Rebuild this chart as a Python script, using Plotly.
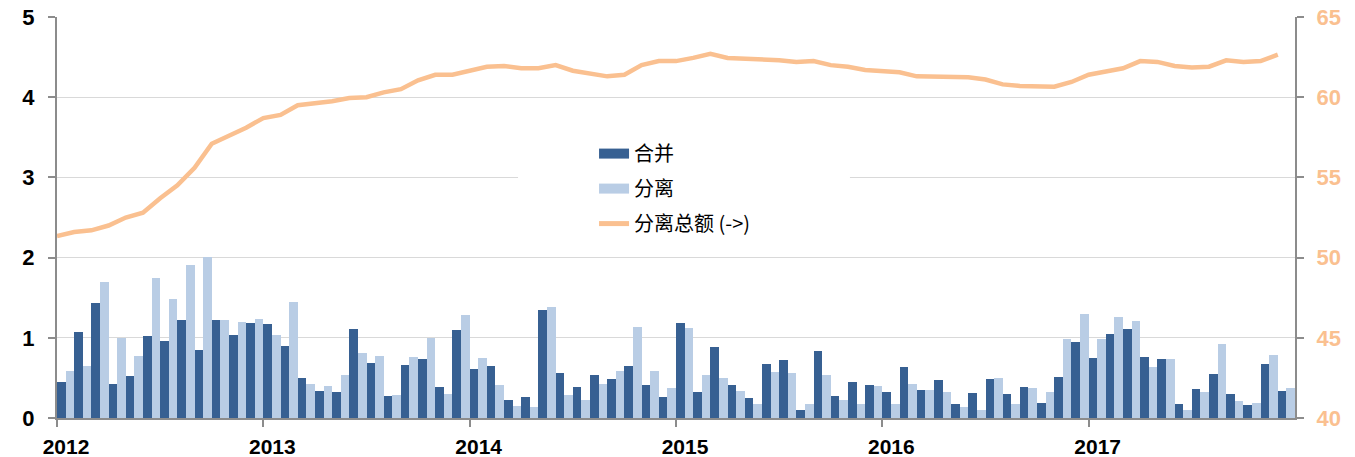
import numpy as np
import plotly.graph_objects as go

# ---- data (monthly, Jan 2012 - Dec 2017) ----
year_labels = ["2012", "2013", "2014", "2015", "2016", "2017"]

merge_vals = [
    0.45, 1.07, 1.44, 0.42, 0.52, 1.02, 0.96, 1.22, 0.85, 1.22, 1.04, 1.19,
    1.17, 0.90, 0.50, 0.34, 0.33, 1.11, 0.68, 0.28, 0.66, 0.74, 0.39, 1.10,
    0.61, 0.65, 0.23, 0.26, 1.35, 0.56, 0.39, 0.54, 0.49, 0.65, 0.41, 0.26,
    1.18, 0.32, 0.89, 0.41, 0.25, 0.67, 0.72, 0.10, 0.83, 0.27, 0.45, 0.41,
    0.33, 0.64, 0.35, 0.47, 0.18, 0.31, 0.49, 0.30, 0.39, 0.19, 0.51, 0.95,
    0.75, 1.05, 1.11, 0.76, 0.74, 0.18, 0.36, 0.55, 0.30, 0.16, 0.67, 0.34,
]
split_vals = [
    0.58, 0.65, 1.70, 1.00, 0.77, 1.75, 1.49, 1.91, 2.01, 1.22, 1.20, 1.24,
    1.04, 1.45, 0.42, 0.40, 0.54, 0.81, 0.77, 0.29, 0.76, 1.00, 0.30, 1.28,
    0.75, 0.41, 0.15, 0.14, 1.38, 0.29, 0.23, 0.43, 0.59, 1.13, 0.59, 0.37,
    1.12, 0.54, 0.50, 0.34, 0.17, 0.57, 0.56, 0.17, 0.53, 0.23, 0.18, 0.40,
    0.17, 0.43, 0.35, 0.33, 0.14, 0.10, 0.50, 0.17, 0.38, 0.32, 0.99, 1.30,
    0.98, 1.26, 1.21, 0.64, 0.73, 0.105, 0.32, 0.92, 0.21, 0.19, 0.78, 0.38,
]
split_total = [
    51.35, 51.6, 51.7, 52.0, 52.5, 52.8, 53.7, 54.5, 55.6, 57.1, 57.6, 58.1,
    58.7, 58.9, 59.5, 59.6, 59.75, 59.95, 60.0, 60.3, 60.5, 61.05, 61.4, 61.4,
    61.65, 61.9, 61.95, 61.8, 61.8, 62.0, 61.65, 61.5, 61.3, 61.4, 62.0, 62.25,
    62.25, 62.45, 62.7, 62.45, 62.4, 62.4, 62.3, 62.2, 62.25, 62.0, 61.9, 61.7,
    61.65, 61.55, 61.3, 61.3, 61.25, 61.25, 61.1, 60.8, 60.7, 60.7, 60.65, 60.95,
    61.4, 61.6, 61.8, 62.25, 62.2, 61.95, 61.85, 61.9, 62.3, 62.2, 62.25, 62.65,
]

names = ["合并", "分离", "分离总额 (->)"]

DARK = "#376092"
LIGHT = "#B9CDE5"
ORANGE = "#FAC090"
AXIS = "#8C8C8C"
GRID = "#D9D9D9"
FONT = "Liberation Sans, Arial, sans-serif"

n = len(merge_vals)
idx = np.arange(n)

fig = go.Figure()
fig.add_trace(go.Bar(x=idx + 0.5, y=merge_vals, name=names[0], marker_color=DARK,
                     marker_line_width=0, showlegend=False))
fig.add_trace(go.Bar(x=idx + 0.5, y=split_vals, name=names[1], marker_color=LIGHT,
                     marker_line_width=0, showlegend=False))
fig.add_trace(go.Scatter(x=idx, y=split_total, name=names[2], mode="lines",
                         line=dict(color=ORANGE, width=4.5), yaxis="y2", showlegend=False))

# legend entries (wide swatches like the original)
for nm, col, w, grp in [(names[0], DARK, 11, "a"), (names[1], LIGHT, 11, "b"), (names[2], ORANGE, 5, "c")]:
    fig.add_trace(go.Scatter(x=[None], y=[None], mode="lines", name=nm,
                             line=dict(color=col, width=w), legendgroup=grp, showlegend=True))

# the page body has an 8px default margin, so the figure is sized/offset accordingly
fig.update_layout(
    width=1347, height=449,
    margin=dict(l=49, r=60, t=9, b=39, autoexpand=False),
    paper_bgcolor="white", plot_bgcolor="white",
    barmode="group", bargap=0, bargroupgap=0,
    xaxis=dict(
        range=[0, n], automargin=False,
        tickvals=list(range(0, n, 12)), ticktext=year_labels,
        ticks="outside", ticklen=7, tickcolor=AXIS, tickwidth=2,
        showline=True, linecolor=AXIS, linewidth=2,
        showgrid=False, zeroline=False,
        tickfont=dict(family=FONT, size=21, color="#000000", weight="bold"),
        ticklabelshift=9, ticklabelstandoff=2, ticklabeloverflow="allow",
    ),
    yaxis=dict(
        range=[0, 5], dtick=1, tickformat="d", automargin=False,
        ticks="outside", ticklen=7, tickcolor=AXIS, tickwidth=2,
        showline=True, linecolor=AXIS, linewidth=2,
        showgrid=True, gridcolor=GRID, gridwidth=1.3, zeroline=False,
        tickfont=dict(family=FONT, size=22, color="#000000", weight="bold"),
        ticklabelstandoff=9, ticklabeloverflow="allow",
    ),
    yaxis2=dict(
        range=[40, 65], dtick=5, overlaying="y", side="right", automargin=False,
        ticks="outside", ticklen=7, tickcolor=AXIS, tickwidth=2,
        showline=True, linecolor=AXIS, linewidth=2,
        showgrid=False, zeroline=False,
        tickfont=dict(family=FONT, size=22, color=ORANGE, weight="bold"),
        ticklabelstandoff=8, ticklabeloverflow="allow",
    ),
    legend=dict(
        x=0.4338, y=0.708, xanchor="left", yanchor="top",
        bgcolor="rgba(255,255,255,1)", borderwidth=0,
        font=dict(family="Noto Sans CJK SC", size=20, color="#000000"),
        traceorder="grouped", tracegroupgap=6,
    ),
    shapes=[dict(type="rect", xref="paper", yref="y", x0=0.3724, x1=0.6405, y0=2.8, y1=3.2,
                 fillcolor="white", line_width=0, layer="above")],
)

fig.write_html("out.html")
